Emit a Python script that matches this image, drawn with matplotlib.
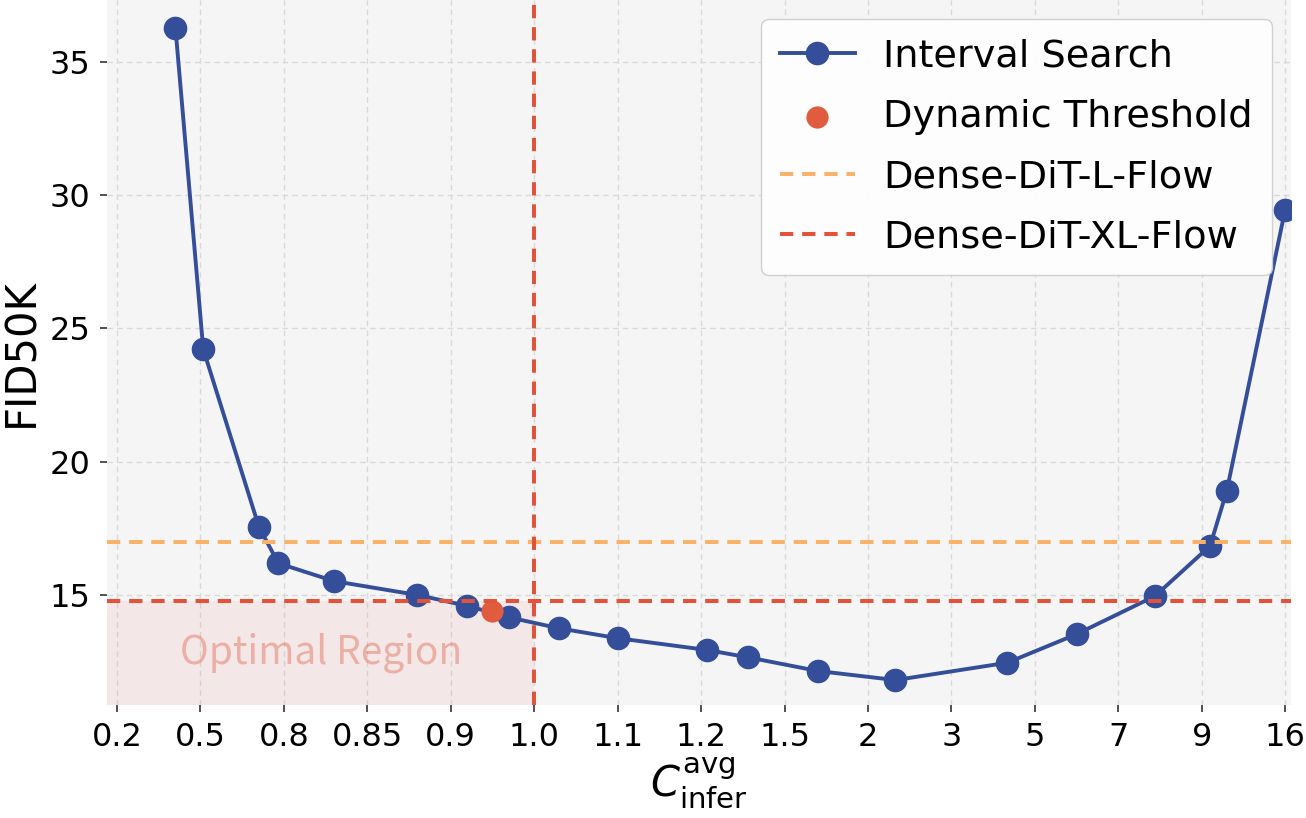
import numpy as np
import matplotlib
matplotlib.use("Agg")
import matplotlib.pyplot as plt

# ---- data ----
tick_values = [0.2, 0.5, 0.8, 0.85, 0.9, 1.0, 1.1, 1.2, 1.5, 2, 3, 5, 7, 9, 16]
tick_labels = ["0.2", "0.5", "0.8", "0.85", "0.9", "1.0", "1.1", "1.2", "1.5",
               "2", "3", "5", "7", "9", "16"]

interval_c = [0.41, 0.51, 0.71, 0.78, 0.83, 0.88, 0.92, 0.97, 1.03, 1.10,
              1.22, 1.37, 1.70, 2.33, 4.34, 6.0, 7.88, 9.7, 11.1, 16.0]
interval_fid = [36.27, 24.22, 17.56, 16.19, 15.52, 15.00, 14.59, 14.16, 13.75, 13.38,
                12.94, 12.66, 12.15, 11.81, 12.46, 13.53, 14.96, 16.84, 18.90, 29.45]

dynamic_c = [0.95]
dynamic_fid = [14.40]

dense_l_fid = 17.00
dense_xl_fid = 14.79
c_ref = 1.0

# ---- colours ----
blue = "#344e99"
red = "#e2533a"
dyn_red = "#e05c3e"
orange = "#f8b26a"

idx = np.arange(len(tick_values))


def to_pos(v):
    return np.interp(np.asarray(v, float), tick_values, idx)


fig = plt.figure(figsize=(13.06, 8.18), dpi=100)
ax = fig.add_axes([107 / 1306, 1 - 705 / 818, (1291 - 107) / 1306, 705 / 818])
ax.set_facecolor("#f5f5f5")
for s in ax.spines.values():
    s.set_visible(False)

xlim = (-0.12, 14.07)
ylim = (10.875, 37.31)

ax.grid(True, linestyle=(0, (4, 3)), color="#d9d9d9", linewidth=1.0, zorder=0)
ax.set_axisbelow(True)

# optimal region
ax.fill_between([xlim[0], to_pos(c_ref)], ylim[0], dense_xl_fid,
                color=red, alpha=0.075, linewidth=0, zorder=1)
ax.text((xlim[0] + to_pos(c_ref)) / 2, (ylim[0] + dense_xl_fid) / 2, "Optimal Region",
        ha="center", va="center", fontsize=28, color=red, alpha=0.38,
        family=["Noto Sans CJK TC", "DejaVu Sans"], zorder=2)

ax.plot(to_pos(interval_c), interval_fid, "-o", color=blue, lw=2.8, markersize=16,
        label="Interval Search", zorder=3)
ax.scatter(to_pos(dynamic_c), dynamic_fid, s=16 ** 2, color=dyn_red, zorder=4,
           label="Dynamic Threshold", linewidths=0)

dash = (0, (3.3, 2.2))
ax.axhline(dense_l_fid, color=orange, lw=2.9, linestyle=dash, label="Dense-DiT-L-Flow", zorder=5)
ax.axhline(dense_xl_fid, color=red, lw=2.9, linestyle=dash, label="Dense-DiT-XL-Flow", zorder=5)
ax.axvline(to_pos(c_ref), color=red, lw=2.9, linestyle=dash, zorder=5)

ax.set_xlim(*xlim)
ax.set_ylim(*ylim)
ax.set_xticks(idx)
ax.set_xticklabels(tick_labels)
ax.set_yticks([15, 20, 25, 30, 35])
ax.tick_params(axis="both", labelsize=23, length=5, width=1.2, color="#333333", pad=7)

ax.set_ylabel("FID50K", fontsize=30, labelpad=5)
ax.set_xlabel(r"$C_{\mathrm{infer}}^{\mathrm{avg}}$", fontsize=30, labelpad=2)

leg = ax.legend(loc="upper right", fontsize=27.5, frameon=True, fancybox=True,
                facecolor="white", edgecolor="#cccccc", framealpha=0.9,
                handlelength=1.95, handletextpad=0.75, labelspacing=0.64,
                borderpad=0.5, borderaxespad=0.5)

fig.savefig("out.png", dpi=100)
